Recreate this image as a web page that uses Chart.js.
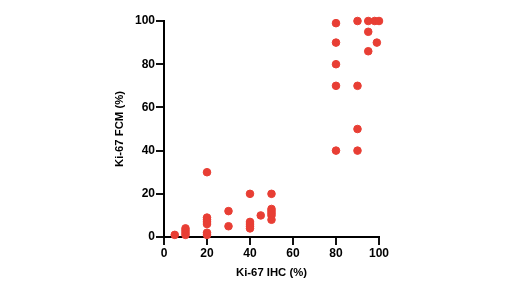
<!DOCTYPE html>
<html>
<head>
<meta charset="utf-8">
<script src="https://cdn.jsdelivr.net/npm/chart.js@4"></script>
<style>
  html, body { margin: 0; padding: 0; background: #fff; }
  #wrap { width: 520px; height: 292px; }
</style>
</head>
<body>
<div id="wrap"><canvas id="c"></canvas></div>
<script>
// Ki-67 IHC (%) vs Ki-67 FCM (%)
const ihc = [5, 10, 10, 10, 10, 20, 20, 20, 20, 20, 20, 20, 30, 30, 40, 40, 40, 40, 40, 45,
	50, 50, 50, 50, 50, 50, 80, 80, 80, 80, 80, 90, 90, 90, 90, 95, 95, 95, 98, 99, 100];
const fcm = [1, 4, 3, 2, 1, 30, 9, 8, 7, 6, 2, 1, 12, 5, 20, 7, 6, 5, 4, 10,
	20, 13, 12, 11, 10, 8, 99, 90, 80, 70, 40, 100, 70, 50, 40, 100, 95, 86, 100, 90, 100];
const axisMin = 0, axisMax = 100, tickStep = 20;

const red = 'rgb(232, 62, 52)';
const font = { family: 'Liberation Sans', size: 12, weight: 'bold' };
const titleFont = { family: 'Liberation Sans', size: 11.3, weight: 'bold' };

const points = ihc.map((x, i) => ({ x, y: fcm[i] }));

const axisStyle = {
	grid: { display: true, drawOnChartArea: false, drawTicks: true, tickLength: 8, tickColor: '#111', tickWidth: 2, color: '#111', lineWidth: 2 },
	border: { display: true, color: '#000', width: 2 }
};

new Chart(document.getElementById('c'), {
	type: 'scatter',
	data: {
		datasets: [{
			data: points,
			backgroundColor: red,
			borderColor: red,
			pointRadius: 3.8,
			pointHoverRadius: 3.8,
			clip: false
		}]
	},
	options: {
		responsive: true,
		maintainAspectRatio: false,
		animation: false,
		layout: { padding: { left: 113, right: 141, top: 21, bottom: 12 } },
		plugins: { legend: { display: false }, tooltip: { enabled: false } },
		scales: {
			x: {
				type: 'linear', min: axisMin, max: axisMax,
				...axisStyle,
				ticks: { color: '#000', font, padding: 1, maxRotation: 0, stepSize: tickStep },
				title: { display: true, text: 'Ki-67 IHC (%)', color: '#000', font: titleFont, padding: { top: 5, bottom: 0 } }
			},
			y: {
				type: 'linear', min: axisMin, max: axisMax,
				...axisStyle,
				afterFit: s => { s.width = 51; },
				ticks: { color: '#000', font, padding: 1, stepSize: tickStep },
				title: { display: true, text: 'Ki-67 FCM (%)', color: '#000', font: titleFont, padding: 0 }
			}
		}
	}
});
</script>
</body>
</html>
